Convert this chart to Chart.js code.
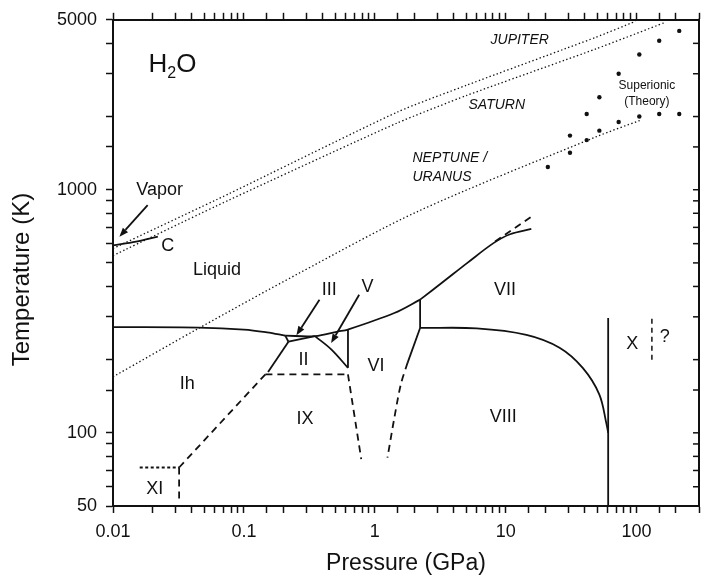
<!DOCTYPE html>
<html><head><meta charset="utf-8">
<script src="https://cdn.jsdelivr.net/npm/chart.js@4/dist/chart.umd.min.js"></script>
<style>html,body{margin:0;padding:0;background:#fff;}</style>
</head><body>
<canvas id="c" width="707" height="581"></canvas>
<script>
// ---------- data: pressure (GPa), temperature (K) ----------
const pressureTickLabels = [0.01, 0.1, 1, 10, 100];
const temperatureTickLabels = [50, 100, 1000, 5000];

const vaporCurve        = [[0.01,590],[0.015,612],[0.022,642]];
const meltIhCurve       = [[0.01,272],[0.045,271],[0.1,266],[0.15,259],[0.207,251]];
const meltMidCurve      = [[0.207,251],[0.35,250],[0.52,261],[0.624,266],[1.41,311],[2.22,353]];
const meltVIICurve      = [[2.22,353],[3.37,420],[5.07,499],[8.07,603],[10.8,656],[15.7,690]];
const meltVIIExtrap     = [[8.3,612],[15.7,774]];
const ihIIILine         = [[0.207,251],[0.219,237]];
const iiIIILine         = [[0.219,237],[0.349,250]];
const ihIILine          = [[0.219,237],[0.153,178]];
const ihIXDashed        = [[0.146,174],[0.032,72]];
const iiVCurve          = [[0.349,250],[0.467,220],[0.624,185]];
const vVILine           = [[0.624,266],[0.624,185]];
const iiIXDashed        = [[0.146,174],[0.624,174]];
const ixVIDashed        = [[0.624,174],[0.788,78]];
const xiDotted          = [[0.016,72],[0.032,72]];
const xiDashed          = [[0.032,72],[0.032,53]];
const viVIILine         = [[2.22,353],[2.22,270]];
const viVIIILine        = [[2.22,270],[1.78,194]];
const viVIIIDashed      = [[1.78,194],[1.58,158],[1.41,115],[1.25,79]];
const viiVIIICurve      = [[2.22,270],[6.0,269],[14.4,253],[25.8,224],[38.8,185],[51.9,144],[58.9,109],[60.7,100]];
const iceXLine          = [[60.7,50],[60.7,297]];
const iceXQueryDashed   = [[131,200],[131,295]];

const jupiterAdiabat    = [[0.01,573],[0.077,963],[1.49,2088],[5.06,2694],[48.9,4237],[98,4927]];
const saturnAdiabat     = [[0.01,536],[0.077,907],[1.49,1883],[5.06,2444],[48.9,3795],[166,4881]];
const neptuneAdiabat    = [[0.01,170],[0.0456,270],[0.261,452],[2.12,813],[48.9,1649],[107,1931]];

const superionicPressure    = [212,149,105,73,52,41.6,73,105,149,212,52,41.6,31,31,21];
const superionicTemperature = [4500,4100,3600,3000,2400,2050,1900,2000,2050,2050,1750,1600,1670,1420,1240];

// annotation texts and their anchor points in data units
const labelTexts = ['Liquid','Ih','II','III','V','VI','IX','XI','VII','VIII','X','?','Vapor','C'];
const labelP     = [0.0624,0.037,0.285,0.449,0.881,1.02,0.293,0.0208,9.9,9.6,92.7,164,0.0227,0.0262];
const labelT     = [469,159,200,386,397,188,114,58.7,385,116,232,247,997,588];
const planetTexts = ['JUPITER','SATURN','NEPTUNE /','URANUS'];
const planetP     = [12.8,8.55,1.94,1.94];
const planetT     = [4108,2223,1343,1130];
const noteTexts = ['Superionic','(Theory)'];
const noteP     = [120,120];
const noteT     = [2686,2296];
const arrowTail = [[0.0184,865],[0.378,353],[0.76,370]];
const arrowHead = [[0.0112,641],[0.252,252],[0.464,234]];
const titleAnchor = [0.0285,3252];

// ---------- chart ----------
const FONT = "'Liberation Sans', Arial, Helvetica, sans-serif";
Chart.defaults.font.family = FONT;
Chart.defaults.color = '#111';
const INK = '#111';

function line(pts, extra) {
  return Object.assign({
    data: pts.map(([p,t]) => ({x:p, y:t})),
    showLine: true, pointRadius: 0, borderColor: INK, borderWidth: 1.8,
    fill: false, tension: 0, borderCapStyle: 'butt'
  }, extra || {});
}
const CURVE = {tension: 0.35};
const DASH = {borderDash: [7,5]};
const DOT = {borderDash: [1.4,2.4], borderWidth: 1.3};

const isOneOf = (arr, v) => arr.some(t => Math.abs(t - v) / t < 1e-6);

const annotPlugin = {
  id: 'annot',
  afterDraw(chart) {
    const {ctx, chartArea: a, scales: {x, y}} = chart;
    const px = p => x.getPixelForValue(p), py = t => y.getPixelForValue(t);
    ctx.save();
    // right border with inward ticks
    ctx.strokeStyle = INK; ctx.lineWidth = 2;
    ctx.beginPath(); ctx.moveTo(a.right, a.top - 1); ctx.lineTo(a.right, a.bottom + 1); ctx.stroke();
    ctx.lineWidth = 1.5;
    y.ticks.forEach(tk => {
      const yy = py(tk.value);
      ctx.beginPath(); ctx.moveTo(a.right, yy); ctx.lineTo(a.right - 6, yy); ctx.stroke();
    });
    ctx.fillStyle = INK;
    ctx.textAlign = 'center'; ctx.textBaseline = 'middle';
    // region labels
    ctx.font = '18px ' + FONT;
    labelTexts.forEach((s, i) => ctx.fillText(s, px(labelP[i]), py(labelT[i])));
    // planet labels
    ctx.font = 'italic 14px ' + FONT;
    planetTexts.forEach((s, i) => {
      ctx.textAlign = i >= 2 ? 'left' : 'center';
      ctx.fillText(s, px(planetP[i]), py(planetT[i]));
    });
    ctx.textAlign = 'center';
    ctx.font = '12px ' + FONT;
    noteTexts.forEach((s, i) => ctx.fillText(s, px(noteP[i]), py(noteT[i])));
    // H2O
    const hx = px(titleAnchor[0]), hy = py(titleAnchor[1]);
    ctx.font = '26px ' + FONT;
    const wH = ctx.measureText('H').width, wO = ctx.measureText('O').width;
    ctx.font = '16px ' + FONT;
    const w2 = ctx.measureText('2').width;
    const sx = hx - (wH + w2 + wO) / 2;
    ctx.textAlign = 'left';
    ctx.font = '26px ' + FONT; ctx.fillText('H', sx, hy);
    ctx.font = '16px ' + FONT; ctx.fillText('2', sx + wH, hy + 8);
    ctx.font = '26px ' + FONT; ctx.fillText('O', sx + wH + w2, hy);
    // arrows
    ctx.lineWidth = 1.8;
    arrowTail.forEach((t, i) => {
      const x0 = px(t[0]), y0 = py(t[1]), x1 = px(arrowHead[i][0]), y1 = py(arrowHead[i][1]);
      const ang = Math.atan2(y1 - y0, x1 - x0), L = 9, W = 3.5;
      const bx = x1 - L * Math.cos(ang), by = y1 - L * Math.sin(ang);
      ctx.beginPath(); ctx.moveTo(x0, y0); ctx.lineTo(bx, by); ctx.stroke();
      ctx.beginPath();
      ctx.moveTo(x1, y1);
      ctx.lineTo(bx + W * Math.sin(ang), by - W * Math.cos(ang));
      ctx.lineTo(bx - W * Math.sin(ang), by + W * Math.cos(ang));
      ctx.closePath(); ctx.fill();
    });
    ctx.restore();
  }
};

new Chart(document.getElementById('c'), {
  type: 'scatter',
  data: {
    datasets: [
      line(vaporCurve, CURVE),
      line(meltIhCurve, CURVE),
      line(meltMidCurve, CURVE),
      line(meltVIICurve, CURVE),
      line(meltVIIExtrap, DASH),
      line(ihIIILine),
      line(iiIIILine),
      line(ihIILine),
      line(ihIXDashed, DASH),
      line(iiVCurve, CURVE),
      line(vVILine),
      line(iiIXDashed, DASH),
      line(ixVIDashed, DASH),
      line(xiDotted, {borderDash: [3,2.5], borderWidth: 1.8}),
      line(xiDashed, DASH),
      line(viVIILine),
      line(viVIIILine),
      line(viVIIIDashed, Object.assign({tension: 0.3}, DASH)),
      line(viiVIIICurve, CURVE),
      line(iceXLine),
      line(iceXQueryDashed, {borderDash: [5,4], borderWidth: 1.5}),
      line(jupiterAdiabat, Object.assign({tension: 0.2}, DOT)),
      line(saturnAdiabat, Object.assign({tension: 0.2}, DOT)),
      line(neptuneAdiabat, Object.assign({tension: 0.3}, DOT)),
      {
        data: superionicPressure.map((p, i) => ({x: p, y: superionicTemperature[i]})),
        showLine: false, pointRadius: 2.2, pointHoverRadius: 2.2,
        backgroundColor: INK, borderColor: INK, borderWidth: 0
      }
    ]
  },
  options: {
    responsive: false,
    animation: false,
    layout: {padding: {left: 0, right: 3, top: 0, bottom: 0}},
    plugins: {legend: {display: false}, tooltip: {enabled: false}},
    scales: {
      x: {
        type: 'logarithmic', position: 'bottom', min: 0.01, max: 300,
        ticks: {autoSkip: false, maxRotation: 0, padding: 8, font: {size: 18}, color: INK,
          callback: v => isOneOf(pressureTickLabels, v) ? String(v) : ''},
        grid: {drawOnChartArea: false, drawTicks: true, tickLength: 7, tickColor: INK, tickWidth: 1.5},
        border: {display: true, color: INK, width: 2},
        title: {display: true, text: 'Pressure (GPa)', font: {size: 23, lineHeight: 1.2}, color: INK, padding: {top: 0, bottom: 4}},
        afterFit: s => { s.height = 75; }
      },
      xTop: {
        type: 'logarithmic', position: 'top', min: 0.01, max: 300,
        ticks: {display: false},
        grid: {drawOnChartArea: false, drawTicks: true, tickLength: 7, tickColor: INK, tickWidth: 1.5},
        border: {display: true, color: INK, width: 2},
        afterFit: s => { s.height = 19; }
      },
      y: {
        type: 'logarithmic', position: 'left', min: 50, max: 5000,
        ticks: {autoSkip: false, padding: 9, font: {size: 18}, color: INK,
          callback: v => isOneOf(temperatureTickLabels, v) ? String(v) : ''},
        grid: {drawOnChartArea: false, drawTicks: true, tickLength: 7, tickColor: INK, tickWidth: 1.5},
        border: {display: true, color: INK, width: 2},
        title: {display: true, text: 'Temperature (K)\u00a0\u00a0\u00a0\u00a0\u00a0', font: {size: 24, lineHeight: 1.2}, color: INK, padding: {top: 8, bottom: 0}},
        afterFit: s => { s.width = 113; }
      }
    }
  },
  plugins: [annotPlugin]
});
</script>
</body></html>
